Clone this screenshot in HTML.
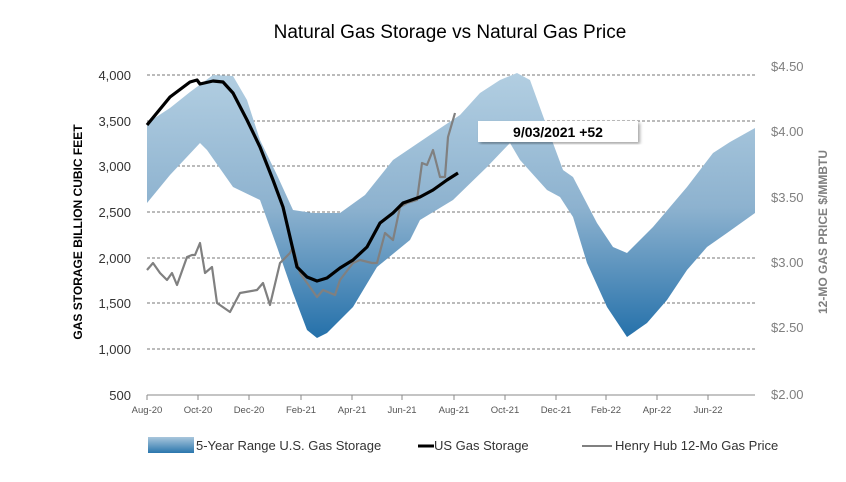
<!DOCTYPE html>
<html><head><meta charset="utf-8"><style>
body{margin:0;background:#fff;}
svg{display:block;font-family:"Liberation Sans",sans-serif;}
</style></head><body>
<svg width="846" height="482" viewBox="0 0 846 482" xmlns="http://www.w3.org/2000/svg">
<defs>
<linearGradient id="g" gradientUnits="userSpaceOnUse" x1="0" y1="70" x2="0" y2="345">
<stop offset="0" stop-color="#b3cfe2"/>
<stop offset="0.5" stop-color="#8db2cf"/>
<stop offset="1" stop-color="#1f6da8"/>
</linearGradient>
<linearGradient id="lg" x1="0" y1="0" x2="0" y2="1">
<stop offset="0" stop-color="#a9c7dc"/><stop offset="1" stop-color="#2a77ad"/>
</linearGradient>
<filter id="sh"><feDropShadow dx="2" dy="2" stdDeviation="1.5" flood-color="#000" flood-opacity="0.35"/></filter>
</defs>
<text x="450" y="38" text-anchor="middle" font-size="19" fill="#000">Natural Gas Storage vs Natural Gas Price</text>
<g stroke="#777" stroke-dasharray="3,2" stroke-width="1">
<line x1="147" y1="75" x2="755" y2="75"/><line x1="147" y1="121" x2="755" y2="121"/>
<line x1="147" y1="166" x2="755" y2="166"/><line x1="147" y1="212" x2="755" y2="212"/>
<line x1="147" y1="258" x2="755" y2="258"/><line x1="147" y1="303" x2="755" y2="303"/>
<line x1="147" y1="349" x2="755" y2="349"/>
</g>
<path fill="url(#g)" d="M147,123 L170,108 L190,92 L213,75 L233,76 L247,100 L260,140 L277,175 L293,210 L313,213 L340,213 L365,195 L393,160 L430,135 L460,115 L480,93 L500,80 L517,73 L530,80 L547,127 L563,170 L573,177 L597,223 L613,247 L627,253 L653,227 L687,187 L713,153 L730,142 L755,128
L755,213 L727,233 L707,247 L687,270 L667,300 L647,323 L627,337 L607,307 L587,263 L573,217 L560,197 L547,190 L520,160 L510,143 L487,167 L453,200 L420,220 L410,240 L377,267 L353,307 L327,333 L317,338 L307,330 L293,293 L277,247 L260,200 L233,187 L207,150 L200,143 L170,175 L147,203 Z"/>
<line x1="147" y1="395" x2="755" y2="395" stroke="#888"/>
<g stroke="#888"><line x1="147" y1="395" x2="147" y2="400"/><line x1="198" y1="395" x2="198" y2="400"/><line x1="249" y1="395" x2="249" y2="400"/><line x1="301" y1="395" x2="301" y2="400"/><line x1="352" y1="395" x2="352" y2="400"/><line x1="402" y1="395" x2="402" y2="400"/><line x1="454" y1="395" x2="454" y2="400"/><line x1="505" y1="395" x2="505" y2="400"/><line x1="556" y1="395" x2="556" y2="400"/><line x1="606" y1="395" x2="606" y2="400"/><line x1="657" y1="395" x2="657" y2="400"/><line x1="708" y1="395" x2="708" y2="400"/></g>
<polyline fill="none" stroke="#808080" stroke-width="2.2" stroke-linejoin="round" points="147,270 153,263 160,273 167,280 172,273 177,285 187,257 192,255 195,255 200,243 205,273 212,267 217,303 230,312 240,293 257,290 263,283 270,305 280,263 290,253 293,247 300,273 317,297 323,290 335,295 340,280 353,263 360,260 372,263 377,263 385,233 393,240 400,207 407,203 417,200 422,163 427,165 433,150 440,177 445,177 448,137 455,113"/>
<polyline fill="none" stroke="#000" stroke-width="3.2" stroke-linejoin="round" points="147,125 170,97 190,82 197,80 200,84 213,81 223,82 233,93 247,120 260,147 273,180 283,207 290,237 297,267 307,277 317,281 327,278 340,268 353,260 367,247 380,223 393,213 403,203 420,197 433,190 447,180 458,173"/>
<rect x="478" y="121" width="160" height="21" fill="#fff" filter="url(#sh)"/>
<text x="558" y="137" text-anchor="middle" font-size="14" font-weight="bold">9/03/2021  +52</text>
<g font-size="13" fill="#333" text-anchor="end">
<text x="131" y="80">4,000</text><text x="131" y="126">3,500</text><text x="131" y="171">3,000</text><text x="131" y="217">2,500</text><text x="131" y="263">2,000</text><text x="131" y="308">1,500</text><text x="131" y="354">1,000</text><text x="131" y="400">500</text>
</g>
<g font-size="13" fill="#7f7f7f">
<text x="771" y="71">$4.50</text><text x="771" y="136">$4.00</text><text x="771" y="202">$3.50</text><text x="771" y="267">$3.00</text><text x="771" y="332">$2.50</text><text x="771" y="399">$2.00</text>
</g>
<g font-size="9.5" fill="#555" text-anchor="middle">
<text x="147" y="413">Aug-20</text><text x="198" y="413">Oct-20</text><text x="249" y="413">Dec-20</text><text x="301" y="413">Feb-21</text><text x="352" y="413">Apr-21</text><text x="402" y="413">Jun-21</text><text x="454" y="413">Aug-21</text><text x="505" y="413">Oct-21</text><text x="556" y="413">Dec-21</text><text x="606" y="413">Feb-22</text><text x="657" y="413">Apr-22</text><text x="708" y="413">Jun-22</text>
</g>
<text transform="translate(82,232) rotate(-90)" text-anchor="middle" font-size="12" font-weight="bold">GAS STORAGE BILLION CUBIC FEET</text>
<text transform="translate(827,232) rotate(-90)" text-anchor="middle" font-size="12" font-weight="bold" fill="#7f7f7f">12-MO GAS PRICE $/MMBTU</text>
<rect x="148" y="437" width="46" height="16" fill="url(#lg)"/>
<text x="196" y="450" font-size="13" fill="#333">5-Year Range U.S. Gas Storage</text>
<line x1="418" y1="446" x2="434" y2="446" stroke="#000" stroke-width="3"/>
<text x="434" y="450" font-size="13" fill="#333">US Gas Storage</text>
<line x1="582" y1="446" x2="612" y2="446" stroke="#808080" stroke-width="2"/>
<text x="615" y="450" font-size="13" fill="#333">Henry Hub 12-Mo Gas Price</text>
</svg>
</body></html>
